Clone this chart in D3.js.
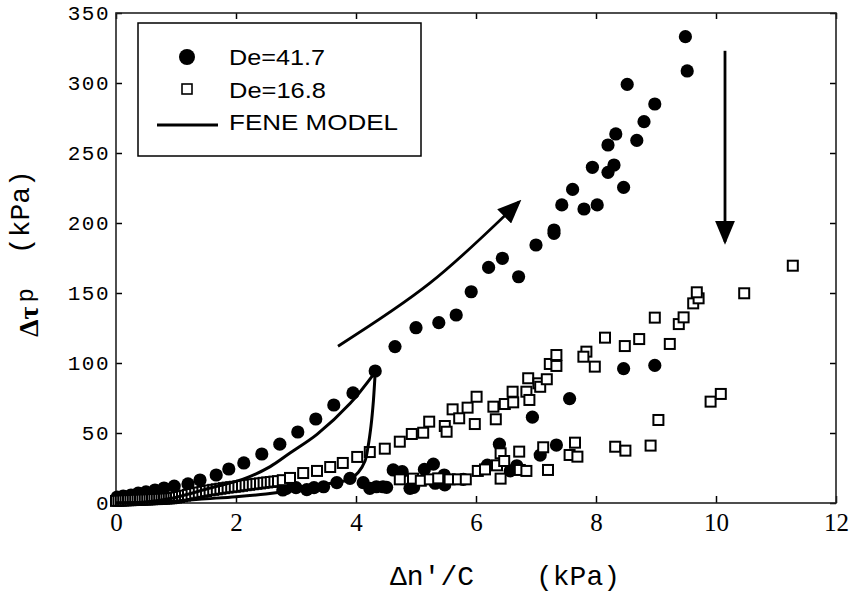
<!DOCTYPE html>
<html>
<head>
<meta charset="utf-8">
<script src="https://cdn.jsdelivr.net/npm/d3@7"></script>
<style>
  body { margin: 0; background: #fff; }
</style>
</head>
<body>
<svg width="865" height="604"></svg>
<script>
// De=41.7, loading branch (filled circles)
var de417Up = [[0.02,4.3],[0.12,5],[0.25,5.7],[0.37,7.1],[0.5,7.9],[0.65,9.3],[0.8,10.7],[0.97,12.1],[1.2,13.6],[1.4,16.4],
  [1.67,20],[1.88,24.3],[2.13,28.6],[2.43,35],[2.73,42],[3.03,50.7],[3.33,60],[3.63,70],[3.95,78.6],[4.32,94.3],
  [4.65,111.7],[5.0,125.2],[5.38,128.8],[5.67,134.3],[5.92,150.9],[6.21,168.3],[6.44,174.8],[6.71,161.6],[7.0,184.3],
  [7.3,195],[7.3,192.6],[7.43,212.9],[7.61,224],[7.8,210],[8.02,212.9],[7.94,239.8],[8.2,236.2],[8.3,241.4],[8.46,225.5],
  [8.2,255.7],[8.33,263.6],[8.68,259],[8.8,272.4],[8.98,285],[8.52,299],[9.49,333.1],[9.52,308.6]];
// De=41.7, relaxation branch
var de417Down = [[2.78,9.3],[2.84,10.5],[3.0,11],[3.18,9.5],[3.3,11],[3.46,11.6],[3.68,14.5],[3.9,17.6],[4.12,14.5],[4.23,10.5],
  [4.34,11.6],[4.45,11.6],[4.51,11.2],[4.62,23.6],[4.77,22.4],[4.9,10.5],[4.96,11.2],[5.14,24],[5.29,27.8],[5.32,14.1],
  [5.47,20],[5.48,12.9],[5.79,16.9],[6.19,27],[6.39,42],[6.57,23],[6.68,26.6],[7.07,34.2],[7.34,41.4],[6.94,61.3],
  [7.56,74.6],[8.46,96],[8.98,98.3]];
// De=16.8, loading branch (open squares)
var de168Up = [[0.0,1.5],[0.04,1.6],[0.08,1.7],[0.12,1.8],[0.16,1.9],[0.2,2.0],[0.24,2.0],[0.28,2.1],[0.32,2.2],[0.36,2.3],
  [0.4,2.3],[0.44,2.4],[0.48,2.5],[0.52,2.5],[0.56,2.6],[0.6,2.7],[0.64,2.8],[0.68,2.8],[0.72,2.9],[0.76,3.0],[0.8,3.1],
  [0.84,3.2],[0.88,3.3],[0.92,3.4],[0.96,3.6],[1.0,3.9],[1.05,4.3],[1.1,4.8],[1.15,5.3],[1.2,5.8],[1.26,6.4],[1.32,7.0],
  [1.38,7.5],[1.44,8.0],[1.5,8.5],[1.56,9.0],[1.62,9.4],[1.68,9.8],[1.74,10.2],[1.8,10.6],[1.86,11.0],[1.92,11.3],
  [1.98,11.6],[2.04,11.9],[2.1,12.3],[2.16,12.7],[2.22,13.0],[2.28,13.4],[2.34,13.7],[2.4,14.0],[2.46,14.4],[2.52,14.7],
  [2.58,15.0],[2.64,15.3],[2.7,15.6],[2.78,16.3],[2.9,17.9],[3.12,21.4],[3.35,22.9],[3.57,25.7],[3.78,28.6],[4.02,32.9],
  [4.23,36.4],[4.48,38.8],[4.73,43.8],[4.93,49.3],[5.12,50.2],[5.22,58.1],[5.48,55],[5.51,50.9],[5.61,66.9],[5.72,60.5],
  [5.86,68.1],[5.98,56.4],[6.01,75.9],[6.29,68.8],[6.33,59.8],[6.48,70.7],[6.61,79.5],[6.62,71.9],[6.84,79.5],[6.87,89.1],
  [6.89,73.6],[7.04,85.5],[7.07,83],[7.18,88.4],[7.23,99.3],[7.34,105.7],[7.34,97.9],[7.84,108.1],[7.79,104.5],[7.98,97.4],
  [8.15,118.1],[8.48,112.1],[8.72,117.1],[8.98,132.4],[9.23,113.6],[9.38,127.8],[9.46,132.6],[9.62,142.6],[9.71,146.2],
  [9.68,150.5],[10.47,149.8],[11.28,169.5]];
// De=16.8, relaxation branch
var de168Down = [[4.73,16.9],[4.95,17.4],[5.08,15.9],[5.23,16.9],[5.37,17.6],[5.56,16.9],[5.7,16.9],[5.83,16.9],[6.03,22.9],
  [6.15,24],[6.41,17.4],[6.35,26.9],[6.41,35.5],[6.47,30],[6.72,36.7],[6.73,23.6],[6.84,22.9],[7.12,39.8],[7.2,23.6],
  [7.56,34.3],[7.65,43.1],[7.69,33.1],[8.32,40.2],[8.49,37.4],[8.91,41],[9.04,59.3],[9.91,72.4],[10.08,77.9]];
// FENE model hysteresis loop
var feneUp = [[0,0],[0.5,0.8],[0.95,3.6],[1.57,10.7],[2.12,17],[2.57,26],[2.9,35.7],[3.35,49],[3.9,71],[4.32,93.5]];
var feneDown = [[4.32,93.5],[4.29,73],[4.25,55],[4.2,40],[4.15,30],[4.04,22],[3.9,17],[3.5,13.5],[3.0,9.5],[2.5,6.5],
  [2.0,4.5],[1.5,3],[1.0,1.5],[0.5,0.5],[0,0]];
// annotation arrows
var riseArrow = [[3.70,112],[5.23,157],[6.72,215.2]];
var dropArrow = [[10.15,323],[10.15,186.6]];

var xTicks = [0, 2, 4, 6, 8, 10, 12];
var yTicks = [0, 50, 100, 150, 200, 250, 300, 350];
var legendLabels = ["De=41.7", "De=16.8", "FENE MODEL"];

var svg = d3.select("svg"),
    x = d3.scaleLinear().domain([0, 12]).range([116, 836]),
    y = d3.scaleLinear().domain([0, 350]).range([503, 13]);

svg.append("defs").append("marker")
    .attr("id", "head")
    .attr("markerUnits", "userSpaceOnUse")
    .attr("viewBox", "0 0 24 20")
    .attr("markerWidth", 24)
    .attr("markerHeight", 20)
    .attr("refX", 21)
    .attr("refY", 10)
    .attr("orient", "auto")
    .append("path")
    .attr("d", "M0,0L24,10L0,20Z")
    .attr("fill", "#000");

// axes, all ticks point inward
var gx = svg.append("g")
    .attr("transform", "translate(0,503)")
    .call(d3.axisBottom(x).tickValues(xTicks).tickSizeInner(-7).tickSizeOuter(0).tickPadding(10).tickFormat(d3.format("d")));
gx.selectAll("text").style("font", "25px 'Liberation Serif'").attr("fill", "#000");

var gy = svg.append("g")
    .attr("transform", "translate(116,0)")
    .call(d3.axisLeft(y).tickValues(yTicks).tickSizeInner(-6).tickSizeOuter(0).tickPadding(6));
gy.selectAll("text").style("font", "21px 'Liberation Mono'").style("letter-spacing", "1.5px").attr("fill", "#000");

svg.append("g")
    .attr("transform", "translate(0,13)")
    .call(d3.axisTop(x).tickValues(xTicks).tickSizeInner(-6).tickSizeOuter(0).tickFormat(""));
svg.append("g")
    .attr("transform", "translate(836,0)")
    .call(d3.axisRight(y).tickValues(yTicks).tickSizeInner(-6).tickSizeOuter(0).tickFormat(""));

svg.selectAll(".domain").remove();
svg.selectAll(".tick line").attr("stroke", "#000").attr("stroke-width", 1.5);

svg.append("rect")
    .attr("x", x(0)).attr("y", y(350))
    .attr("width", x(12) - x(0)).attr("height", y(0) - y(350))
    .attr("fill", "none").attr("stroke", "#222").attr("stroke-width", 1.6);

// data
svg.append("g").selectAll("circle")
    .data(de417Up.concat(de417Down))
    .enter().append("circle")
    .attr("cx", function(d) { return x(d[0]); })
    .attr("cy", function(d) { return y(d[1]); })
    .attr("r", 6.6)
    .attr("fill", "#000");

svg.append("g").selectAll("rect")
    .data(de168Up.concat(de168Down))
    .enter().append("rect")
    .attr("x", function(d) { return x(d[0]) - 5; })
    .attr("y", function(d) { return y(d[1]) - 5; })
    .attr("width", 10).attr("height", 10)
    .attr("fill", "#fff")
    .attr("stroke", "#000")
    .attr("stroke-width", 2);

var line = d3.line()
    .curve(d3.curveCatmullRom)
    .x(function(d) { return x(d[0]); })
    .y(function(d) { return y(d[1]); });

[feneUp, feneDown].forEach(function(seg) {
    svg.append("path")
        .attr("d", line(seg))
        .attr("fill", "none")
        .attr("stroke", "#000")
        .attr("stroke-width", 3);
});

[riseArrow, dropArrow].forEach(function(seg) {
    svg.append("path")
        .attr("d", line(seg))
        .attr("fill", "none")
        .attr("stroke", "#000")
        .attr("stroke-width", 2.8)
        .attr("marker-end", "url(#head)");
});

// axis titles
var xt = svg.append("text")
    .attr("x", 390).attr("y", 585)
    .style("font", "28px 'Liberation Mono'")
    .attr("fill", "#000");
xt.append("tspan").text("\u0394n'/C");
xt.append("tspan").attr("x", 536).text("(kPa)");

var yt = svg.append("text")
    .attr("transform", "translate(38,337) rotate(-90)")
    .attr("fill", "#000");
yt.append("tspan").style("font", "bold 28px 'Liberation Serif'").text("\u0394\u03c4");
yt.append("tspan").attr("dx", 4).attr("dy", -5).style("font", "24px 'Liberation Mono'").text("p");
yt.append("tspan").attr("dx", 34).attr("dy", -4).style("font", "28px 'Liberation Mono'").text("(kPa)");

// legend
var legend = svg.append("g");
legend.append("rect")
    .attr("x", 138).attr("y", 23).attr("width", 283).attr("height", 133)
    .attr("fill", "#fff").attr("stroke", "#000").attr("stroke-width", 1.5);

var rowY = [57, 89, 122];
legend.append("circle").attr("cx", 187).attr("cy", rowY[0]).attr("r", 8).attr("fill", "#000");
legend.append("rect").attr("x", 182).attr("y", rowY[1] - 5).attr("width", 10).attr("height", 10)
    .attr("fill", "#fff").attr("stroke", "#000").attr("stroke-width", 1.6);
legend.append("line").attr("x1", 157).attr("x2", 218).attr("y1", 125).attr("y2", 125)
    .attr("stroke", "#000").attr("stroke-width", 3);

var textLen = [96, 97, 169];
var baseY = [65, 98, 130];
legend.selectAll("text.lab")
    .data(legendLabels)
    .enter().append("text")
    .attr("class", "lab")
    .attr("x", 229)
    .attr("y", function(d, i) { return baseY[i]; })
    .attr("textLength", function(d, i) { return textLen[i]; })
    .attr("lengthAdjust", "spacingAndGlyphs")
    .style("font", "22px 'Liberation Sans'")
    .attr("fill", "#000")
    .text(function(d) { return d; });
</script>
</body>
</html>
